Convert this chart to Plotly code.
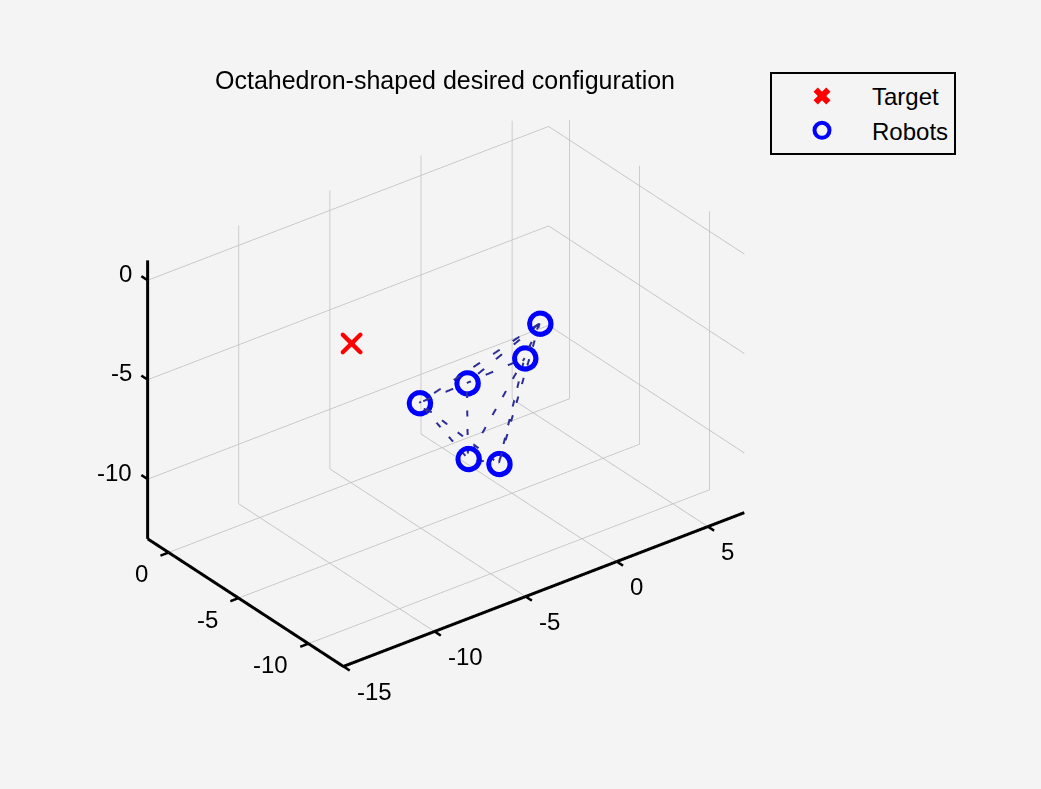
import plotly.graph_objects as go

# ---- data ----
target_x = [-6.69]
target_y = [-2.25]
target_z = [-4.37]

robot_x = [0.07, -0.91, -3.23, -5.14, -4.20, -3.20]
robot_y = [-6.89, -7.09, -5.99, -5.07, -7.33, -8.23]
robot_z = [-3.62, -4.93, -5.87, -6.62, -8.72, -8.91]

# octahedron edges between robots (index pairs)
edges = [(0, 1), (0, 2), (0, 3), (0, 5), (1, 2), (1, 4), (1, 5),
         (2, 3), (2, 4), (3, 4), (3, 5), (4, 5)]

x_ticks = [-15, -10, -5, 0, 5]
y_ticks = [-10, -5, 0]
z_ticks = [-10, -5, 0]
x_range = [-15, 7]
y_range = [-12.5, 1.5]
z_range = [-13, 1]

title_text = "Octahedron-shaped desired configuration"

FONT = "Liberation Sans, Arial, Helvetica, sans-serif"
x0, x1 = x_range
y0, y1 = y_range
z0, z1 = z_range
tick_len = 0.45
pad = 1.0   # scene range padding so box edges are not clipped


def segs(pairs):
    xs, ys, zs = [], [], []
    for (a, b) in pairs:
        xs += [a[0], b[0], None]
        ys += [a[1], b[1], None]
        zs += [a[2], b[2], None]
    return xs, ys, zs


def inside(v, r):
    return r[0] < v < r[1]


fig = go.Figure()

# ---- grid on the back planes (from tick arrays) ----
grid = []
for t in x_ticks:
    if inside(t, x_range):
        grid.append(((t, y0, z0), (t, y1, z0)))      # floor
        grid.append(((t, y1, z0), (t, y1, z1)))      # back wall y = ymax
for t in y_ticks:
    if inside(t, y_range):
        grid.append(((x0, t, z0), (x1, t, z0)))      # floor
        grid.append(((x1, t, z0), (x1, t, z1)))      # right wall x = xmax
for t in z_ticks:
    if inside(t, z_range):
        grid.append(((x0, y1, t), (x1, y1, t)))      # back wall
        grid.append(((x1, y0, t), (x1, y1, t)))      # right wall
gx, gy, gz = segs(grid)
fig.add_trace(go.Scatter3d(x=gx, y=gy, z=gz, mode="lines",
                           line=dict(color="rgb(192,192,192)", width=1.5),
                           showlegend=False, hoverinfo="skip"))

# ---- axis lines and ticks ----
axes = [((x0, y0, z0), (x1, y0, z0)),
        ((x0, y0, z0), (x0, y1, z0)),
        ((x0, y1, z0), (x0, y1, z1))]
ax_x, ax_y, ax_z = segs(axes)
fig.add_trace(go.Scatter3d(x=ax_x, y=ax_y, z=ax_z, mode="lines",
                           line=dict(color="black", width=6),
                           showlegend=False, hoverinfo="skip"))
ticks = []
for t in x_ticks:
    ticks.append(((t, y0, z0), (t, y0 - tick_len, z0)))
for t in y_ticks:
    ticks.append(((x0, t, z0), (x0 - tick_len, t, z0)))
for t in z_ticks:
    ticks.append(((x0, y1, t), (x0, y1 + tick_len, t)))
tx, ty, tz = segs(ticks)
fig.add_trace(go.Scatter3d(x=tx, y=ty, z=tz, mode="lines",
                           line=dict(color="black", width=5),
                           showlegend=False, hoverinfo="skip"))

# ---- configuration edges ----
ex, ey, ez = [], [], []
for i, j in edges:
    ex += [robot_x[i], robot_x[j], None]
    ey += [robot_y[i], robot_y[j], None]
    ez += [robot_z[i], robot_z[j], None]
fig.add_trace(go.Scatter3d(x=ex, y=ey, z=ez, mode="lines",
                           line=dict(color="rgb(45,45,150)", width=4, dash="dash"),
                           showlegend=False, hoverinfo="skip"))

# ---- markers ----
fig.add_trace(go.Scatter3d(x=target_x, y=target_y, z=target_z, mode="markers",
                           name="Target", showlegend=False,
                           marker=dict(symbol="x", size=5, color="red")))
for s in [15, 14, 13, 12, 11.5]:
    fig.add_trace(go.Scatter3d(x=robot_x, y=robot_y, z=robot_z, mode="markers",
                               name="Robots", showlegend=False,
                               marker=dict(symbol="circle-open", size=s, color="blue")))

# ---- legend entries (2D proxies so the legend symbols are drawn bold) ----
fig.add_trace(go.Scatter(x=[None], y=[None], mode="markers", name="Target",
                         marker=dict(symbol="x", size=15, color="red",
                                     line=dict(width=0))))
fig.add_trace(go.Scatter(x=[None], y=[None], mode="markers", name="Robots",
                         marker=dict(symbol="circle-open", size=15, color="blue",
                                     line=dict(width=4, color="blue"))))

# ---- tick labels as scene annotations ----
annos = []
for t in x_ticks:
    annos.append(dict(x=t, y=y0, z=z0, text=str(t), showarrow=False,
                      xanchor="left", yanchor="middle", xshift=12, yshift=-25))
for t in y_ticks:
    annos.append(dict(x=x0, y=t, z=z0, text=str(t), showarrow=False,
                      xanchor="right", yanchor="middle", xshift=-18, yshift=-21))
for t in z_ticks:
    annos.append(dict(x=x0, y=y1, z=t, text=str(t), showarrow=False,
                      xanchor="right", yanchor="middle", xshift=-13, yshift=7))
for a in annos:
    a["font"] = dict(family=FONT, size=24, color="black")


def hidden(rng):
    return dict(range=[rng[0] - pad, rng[1] + pad], visible=False, showspikes=False)


sx = x1 - x0 + 2 * pad
sy = y1 - y0 + 2 * pad
sz = z1 - z0 + 2 * pad
d = 2.2
fig.update_layout(
    width=1041, height=789,
    paper_bgcolor="#f4f4f4", plot_bgcolor="rgba(0,0,0,0)",
    margin=dict(l=0, r=0, t=0, b=0),
    font=dict(family=FONT, size=24, color="black"),
    title=dict(text=title_text, x=445 / 1041, xanchor="center", y=1 - 80 / 789,
               yanchor="middle", font=dict(size=25, color="black", family=FONT)),
    xaxis=dict(visible=False), yaxis=dict(visible=False),
    scene=dict(
        domain=dict(x=[0.068, 0.788], y=[0.0445, 0.9755]),
        xaxis=hidden(x_range),
        yaxis=hidden(y_range),
        zaxis=hidden(z_range),
        aspectmode="manual",
        aspectratio=dict(x=sx / sy, y=1, z=sz / sy),
        camera=dict(projection=dict(type="orthographic"),
                    eye=dict(x=-0.527 * d, y=-0.687 * d, z=0.5 * d),
                    up=dict(x=0, y=0, z=1), center=dict(x=0, y=0, z=0)),
        annotations=annos,
    ),
    legend=dict(x=770 / 1041, y=1 - 72 / 789, xanchor="left", yanchor="top",
                bgcolor="#f4f4f4", bordercolor="black", borderwidth=2,
                itemwidth=90, tracegroupgap=0,
                font=dict(size=24, color="black", family=FONT)),
)

fig.write_html("out.html", config={"displayModeBar": False})
